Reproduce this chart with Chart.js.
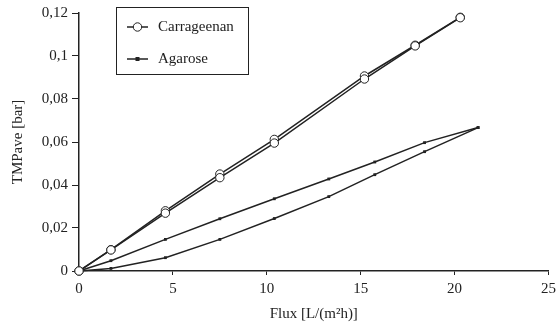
<!DOCTYPE html>
<html>
<head>
<meta charset="utf-8">
<script src="https://cdn.jsdelivr.net/npm/chart.js@4"></script>
<style>
  html, body { margin: 0; padding: 0; background: #fff; }
  #wrap { width: 557px; height: 327px; }
</style>
</head>
<body>
<div id="wrap"><canvas id="chart" width="557" height="327"></canvas></div>
<script>
// flux values [L/(m2h)]
const fluxCarr = [0, 1.7, 4.6, 7.5, 10.4, 15.2, 17.9, 20.3];
const carrUp = [0, 0.0098, 0.0269, 0.0434, 0.0595, 0.0893, 0.1047, 0.1178];
const carrDown = [0, 0.0099, 0.028, 0.0451, 0.0612, 0.0907, 0.105, 0.118];

const fluxAgar = [0, 1.7, 4.6, 7.5, 10.4, 13.3, 15.75, 18.4, 21.25];
const agarUp = [0, 0.0048, 0.0147, 0.0243, 0.0336, 0.0428, 0.0507, 0.0597, 0.0667];
const agarDown = [0, 0.0012, 0.0062, 0.0147, 0.0244, 0.0346, 0.0448, 0.0555, 0.0667];

const legendLabels = ['Carrageenan', 'Agarose'];

const ink = '#222';
const font = "'Liberation Serif', 'Times New Roman', serif";

function toPoints(xs, ys) {
    return xs.map((x, i) => ({ x: x, y: ys[i] }));
}

function carrSet(ys) {
    return {
        data: toPoints(fluxCarr, ys),
        borderColor: ink,
        borderWidth: 1.5,
        pointStyle: 'circle',
        pointRadius: 4.2,
        pointBackgroundColor: '#fff',
        pointBorderColor: ink,
        pointBorderWidth: 1,
        clip: false
    };
}

function agarSet(ys) {
    return {
        data: toPoints(fluxAgar, ys),
        borderColor: ink,
        borderWidth: 1.5,
        pointStyle: 'rect',
        pointRadius: 2,
        pointBackgroundColor: ink,
        pointBorderColor: ink,
        pointBorderWidth: 0,
        clip: false
    };
}

// boxed legend in the upper left of the plot
const boxLegend = {
    id: 'boxLegend',
    afterDraw(chart) {
        const ctx = chart.ctx;
        ctx.save();
        ctx.strokeStyle = ink;
        ctx.lineWidth = 1;
        ctx.strokeRect(116.5, 7.5, 132, 67);

        const rows = [27, 59];
        rows.forEach((y, i) => {
            ctx.beginPath();
            ctx.moveTo(127, y);
            ctx.lineTo(148, y);
            ctx.lineWidth = 1.5;
            ctx.strokeStyle = ink;
            ctx.stroke();
            if (i === 0) {
                ctx.beginPath();
                ctx.arc(137.5, y, 4.2, 0, Math.PI * 2);
                ctx.fillStyle = '#fff';
                ctx.fill();
                ctx.lineWidth = 1;
                ctx.stroke();
            } else {
                ctx.fillStyle = ink;
                ctx.fillRect(135.5, y - 2, 4, 4);
            }
            ctx.fillStyle = ink;
            ctx.font = '15px ' + font;
            ctx.textBaseline = 'middle';
            ctx.fillText(legendLabels[i], 158, y);
        });
        ctx.restore();
    }
};

new Chart(document.getElementById('chart'), {
    type: 'line',
    data: {
        datasets: [carrSet(carrUp), carrSet(carrDown), agarSet(agarUp), agarSet(agarDown)]
    },
    options: {
        responsive: false,
        animation: false,
        layout: { padding: { left: 0, right: 8.5, top: 13, bottom: 0 } },
        plugins: {
            legend: { display: false },
            tooltip: { enabled: false }
        },
        scales: {
            x: {
                type: 'linear',
                min: 0,
                max: 25,
                ticks: {
                    stepSize: 5,
                    color: ink,
                    font: { family: font, size: 15 },
                    padding: 5
                },
                grid: {
                    drawOnChartArea: false,
                    color: ink,
                    tickLength: 4,
                    tickColor: ink
                },
                border: { color: ink, width: 1.5 },
                title: {
                    display: true,
                    text: 'Flux [L/(m²h)]',
                    color: ink,
                    font: { family: font, size: 15 },
                    padding: { top: 0, bottom: 4 }
                },
                afterFit(scale) {
                    scale.height = 56;
                    scale.paddingRight = 0;
                    scale.paddingLeft = 0;
                }
            },
            y: {
                min: 0,
                max: 0.12,
                ticks: {
                    stepSize: 0.02,
                    color: ink,
                    font: { family: font, size: 15 },
                    padding: 4,
                    callback: v => String(Math.round(v * 100) / 100).replace('.', ',')
                },
                grid: {
                    drawOnChartArea: false,
                    color: ink,
                    tickLength: 7,
                    tickColor: ink
                },
                border: { color: ink, width: 1.5 },
                title: {
                    display: true,
                    text: 'TMPave [bar]',
                    color: ink,
                    font: { family: font, size: 15 },
                    padding: { top: 9, bottom: 0 }
                },
                afterFit(scale) {
                    scale.width = 79;
                    scale.paddingTop = 0;
                    scale.paddingBottom = 0;
                }
            }
        }
    },
    plugins: [boxLegend]
});
</script>
</body>
</html>
